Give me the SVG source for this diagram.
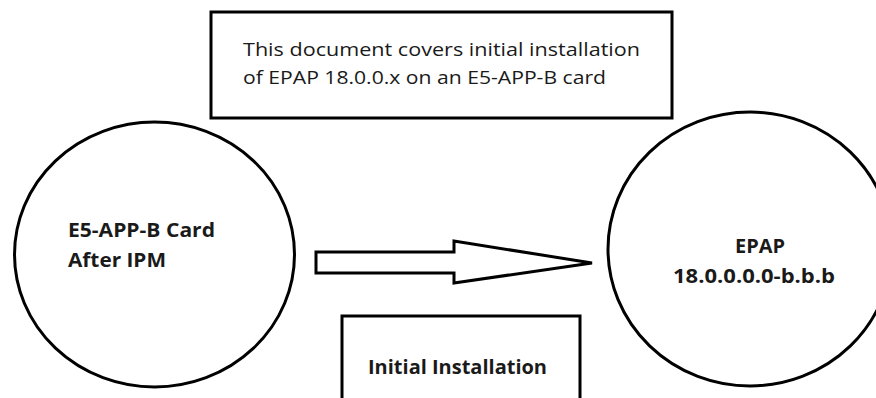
<svg xmlns="http://www.w3.org/2000/svg" width="876" height="398" viewBox="0 0 876 398">
  <style>
    .shape { fill: #ffffff; stroke: #000000; stroke-width: 3; }
    .txt { font-family: "Open Sans", "Noto Sans", "Liberation Sans", sans-serif; fill: #1a1a1a; }
    .reg { font-size: 19px; font-weight: normal; }
    .bold { font-size: 19.5px; font-weight: bold; }
  </style>
  <rect width="876" height="398" fill="#ffffff"/>
  <g id="note-top">
    <rect class="shape" x="211" y="12" width="461" height="106"/>
    <text class="txt reg" x="243" y="56" textLength="397" lengthAdjust="spacingAndGlyphs">This document covers initial installation</text>
    <text class="txt reg" x="243" y="84" textLength="363" lengthAdjust="spacingAndGlyphs">of EPAP 18.0.0.x on an E5-APP-B card</text>
  </g>
  <g id="node-source">
    <ellipse class="shape" cx="154.5" cy="254.5" rx="140" ry="132.5"/>
    <text class="txt bold" x="68" y="237" textLength="147" lengthAdjust="spacingAndGlyphs">E5-APP-B Card</text>
    <text class="txt bold" x="68" y="267" textLength="98" lengthAdjust="spacingAndGlyphs">After IPM</text>
  </g>
  <g id="node-target">
    <ellipse class="shape" cx="750" cy="249" rx="142" ry="137"/>
    <text class="txt bold" x="760" y="253" text-anchor="middle" textLength="50" lengthAdjust="spacingAndGlyphs">EPAP</text>
    <text class="txt bold" x="754" y="283" text-anchor="middle" textLength="162" lengthAdjust="spacingAndGlyphs">18.0.0.0.0-b.b.b</text>
  </g>
  <g id="connectors">
    <polygon class="shape" points="316,252 454,252 454,241 592,263 454,283 454,273 316,273"/>
  </g>
  <g id="label-initial">
    <rect class="shape" x="342" y="316" width="238" height="110"/>
    <text class="txt bold" x="368" y="374" textLength="179" lengthAdjust="spacingAndGlyphs">Initial Installation</text>
  </g>
</svg>
